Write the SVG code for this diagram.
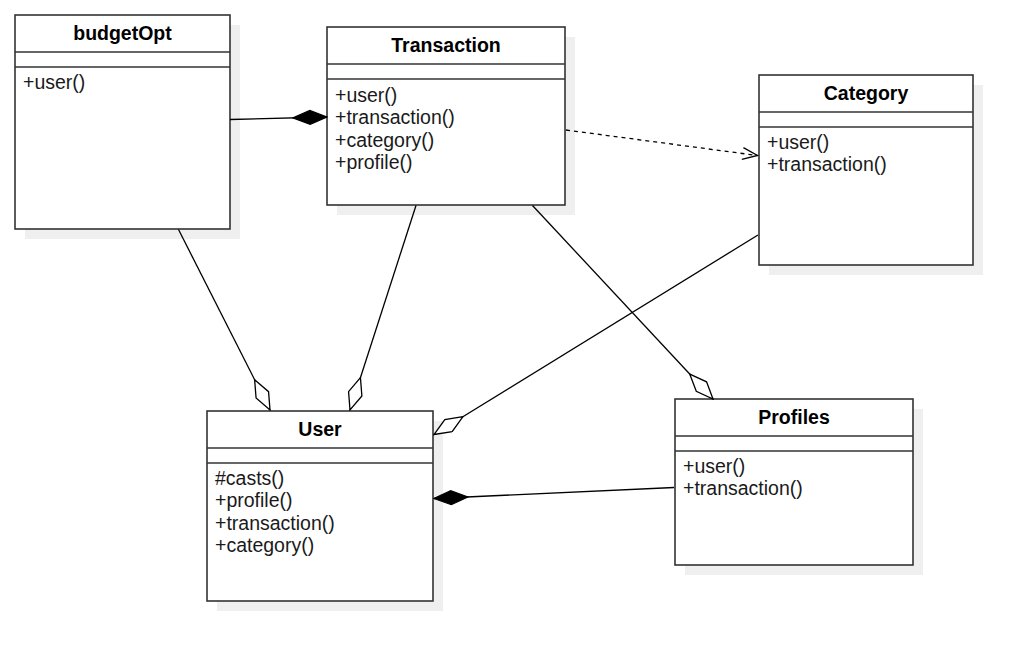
<svg xmlns="http://www.w3.org/2000/svg" width="1033" height="661" viewBox="0 0 1033 661">
<style>
.shadow{fill:#efefef;stroke:none}
.box{fill:#ffffff;stroke:#333333;stroke-width:1.6}
.sep{stroke:#333333;stroke-width:1.6;fill:none}
.title{font-family:"Liberation Sans",Arial,sans-serif;font-size:19.5px;font-weight:bold;fill:#000000;text-anchor:middle}
.m{font-family:"Liberation Sans",Arial,sans-serif;font-size:19.5px;fill:#1a1a1a}
.edge{fill:none;stroke:#000000;stroke-width:1.3}
.dash{stroke-dasharray:4 4}
</style>
<defs>
<marker id="dFill" viewBox="0 0 36 16" refX="35" refY="8" markerWidth="36" markerHeight="16" orient="auto" markerUnits="userSpaceOnUse">
<path d="M1,8 L18,1 L35,8 L18,15 Z" fill="#000000" stroke="#000000" stroke-width="1.2"/>
</marker>
<marker id="dOpen" viewBox="0 0 36 16" refX="35" refY="8" markerWidth="36" markerHeight="16" orient="auto" markerUnits="userSpaceOnUse">
<path d="M1,8 L18,1 L35,8 L18,15 Z" fill="#ffffff" stroke="#000000" stroke-width="1.3"/>
</marker>
<marker id="arrOpen" viewBox="0 0 18 14" refX="16" refY="7" markerWidth="18" markerHeight="14" orient="auto" markerUnits="userSpaceOnUse">
<path d="M1,1 L16,7 L1,13" fill="none" stroke="#000000" stroke-width="1.3"/>
</marker>
</defs>

<g id="budgetOpt">
<rect class="shadow" x="25" y="25" width="215" height="214"/>
<rect class="box" x="15" y="15" width="215" height="214"/>
<line class="sep" x1="15" y1="52" x2="230" y2="52"/>
<line class="sep" x1="15" y1="67" x2="230" y2="67"/>
<text class="title" x="122.5" y="40">budgetOpt</text>
<text class="m" x="23" y="89">+user()</text>
</g>

<g id="Transaction">
<rect class="shadow" x="337" y="37" width="238" height="178"/>
<rect class="box" x="327" y="27" width="238" height="178"/>
<line class="sep" x1="327" y1="64" x2="565" y2="64"/>
<line class="sep" x1="327" y1="79" x2="565" y2="79"/>
<text class="title" x="446" y="52">Transaction</text>
<text class="m" x="335" y="101.5">+user()</text>
<text class="m" x="335" y="124">+transaction()</text>
<text class="m" x="335" y="146.5">+category()</text>
<text class="m" x="335" y="169">+profile()</text>
</g>

<g id="Category">
<rect class="shadow" x="769" y="85" width="214" height="190"/>
<rect class="box" x="759" y="75" width="214" height="190"/>
<line class="sep" x1="759" y1="112" x2="973" y2="112"/>
<line class="sep" x1="759" y1="127" x2="973" y2="127"/>
<text class="title" x="866" y="100">Category</text>
<text class="m" x="767" y="148.5">+user()</text>
<text class="m" x="767" y="171">+transaction()</text>
</g>

<g id="User">
<rect class="shadow" x="217" y="421" width="226" height="190"/>
<rect class="box" x="207" y="411" width="226" height="190"/>
<line class="sep" x1="207" y1="448" x2="433" y2="448"/>
<line class="sep" x1="207" y1="463" x2="433" y2="463"/>
<text class="title" x="320" y="436">User</text>
<text class="m" x="215" y="484.5">#casts()</text>
<text class="m" x="215" y="507">+profile()</text>
<text class="m" x="215" y="529.5">+transaction()</text>
<text class="m" x="215" y="552">+category()</text>
</g>

<g id="Profiles">
<rect class="shadow" x="685" y="409" width="238" height="166"/>
<rect class="box" x="675" y="399" width="238" height="166"/>
<line class="sep" x1="675" y1="436" x2="913" y2="436"/>
<line class="sep" x1="675" y1="451" x2="913" y2="451"/>
<text class="title" x="794" y="424">Profiles</text>
<text class="m" x="683" y="472.5">+user()</text>
<text class="m" x="683" y="495">+transaction()</text>
</g>

<g id="connectors">
<path class="edge" d="M230,119.5 L327,117" marker-end="url(#dFill)"/>
<path class="edge dash" d="M566,130 L757.5,155.5" marker-end="url(#arrOpen)"/>
<path class="edge" d="M178.5,229.5 L270,410" marker-end="url(#dOpen)"/>
<path class="edge" d="M416,205.5 L350,410" marker-end="url(#dOpen)"/>
<path class="edge" d="M758,235 L434,434.5" marker-end="url(#dOpen)"/>
<path class="edge" d="M532.5,205.5 L713,399" marker-end="url(#dOpen)"/>
<path class="edge" d="M674,487.5 L434,498.5" marker-end="url(#dFill)"/>
</g>
</svg>
